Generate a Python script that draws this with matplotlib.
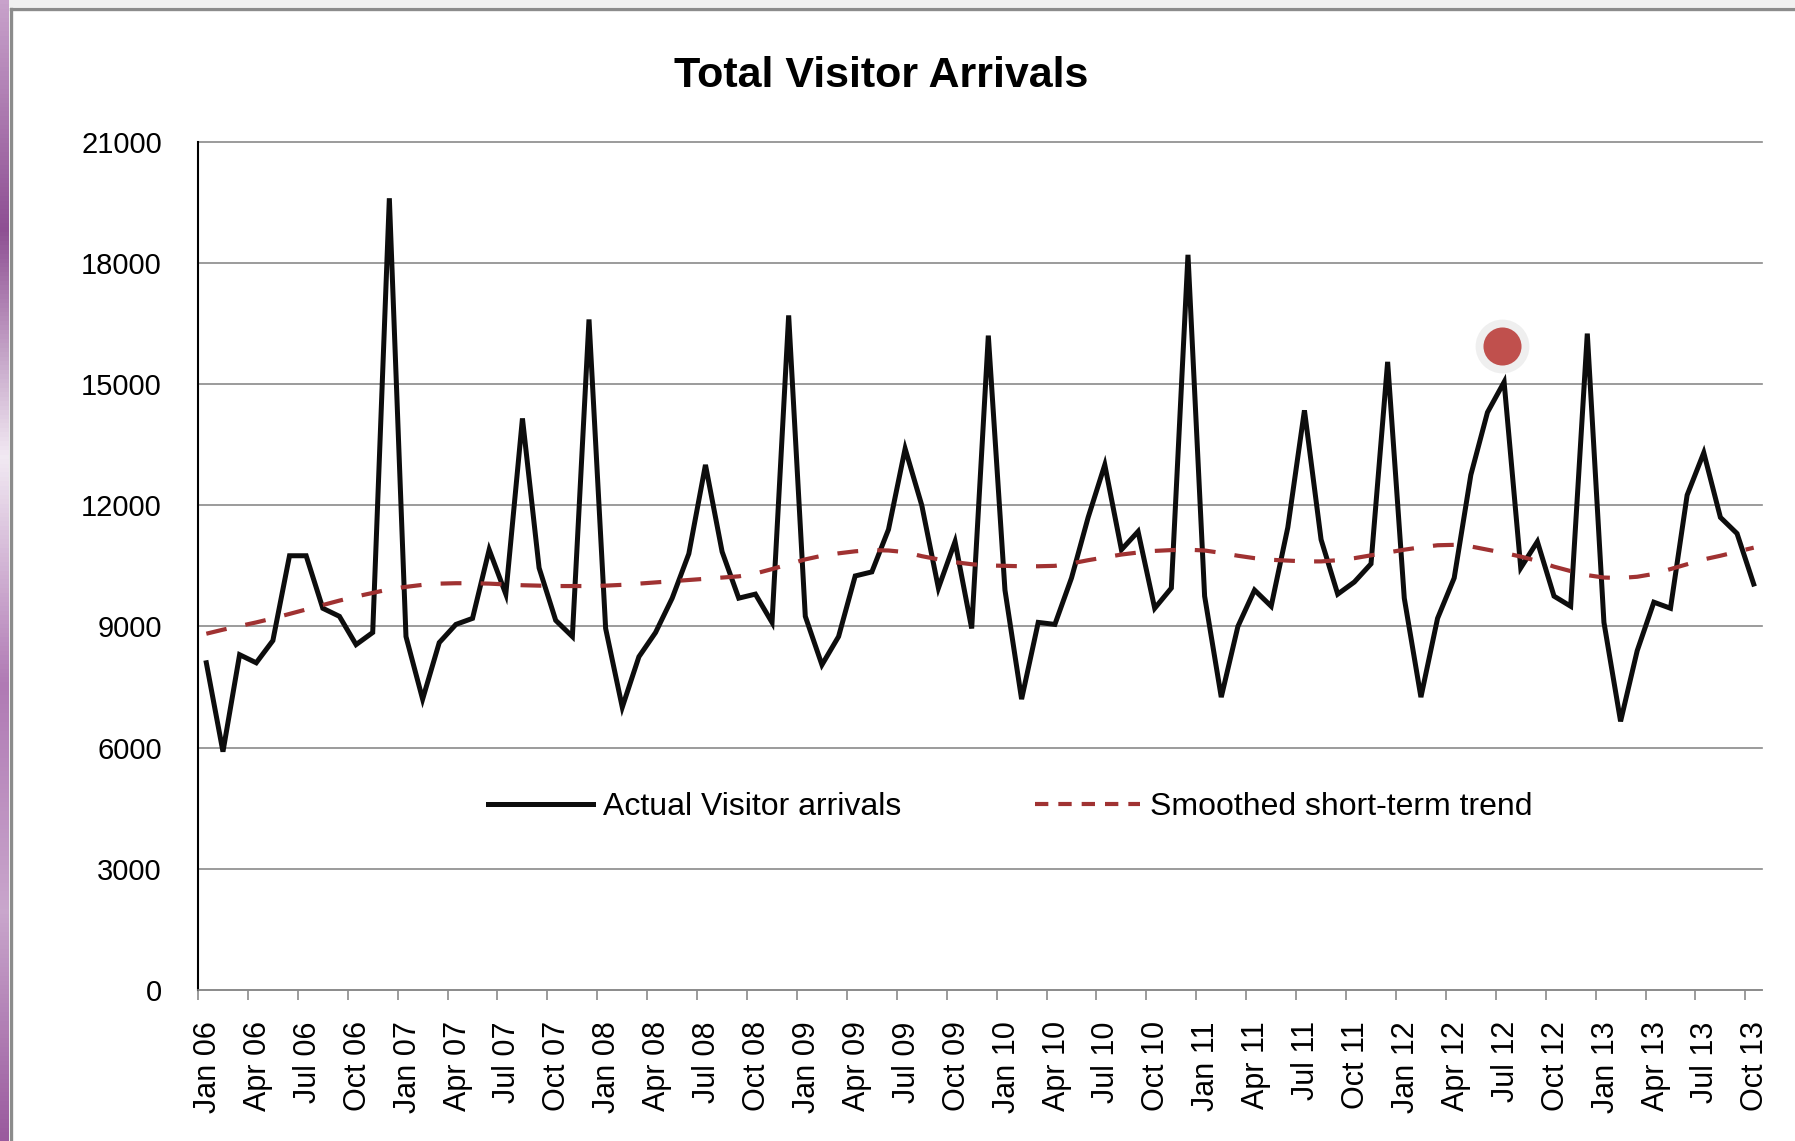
import numpy as np
import matplotlib
matplotlib.use("Agg")
import matplotlib.pyplot as plt
from matplotlib import transforms
from matplotlib.lines import Line2D
from matplotlib.colors import LinearSegmentedColormap

plt.rcParams['font.family'] = ['Liberation Sans', 'DejaVu Sans']

# ---------------- data ----------------
title = "Total Visitor Arrivals"
series_names = ["Actual Visitor arrivals", "Smoothed short-term trend"]

actual = [8100, 5900, 8300, 8100, 8650, 10750, 10750, 9450, 9250, 8550, 8850, 19600,
          8750, 7200, 8600, 9050, 9200, 10900, 9800, 14150, 10450, 9150, 8750, 16600,
          8950, 7000, 8250, 8850, 9700, 10800, 13000, 10850, 9700, 9800, 9100, 16700,
          9250, 8050, 8750, 10250, 10350, 11400, 13400, 12000, 9950, 11100, 8950, 16200,
          9900, 7200, 9100, 9050, 10200, 11700, 13000, 10900, 11350, 9450, 9950, 18200,
          9750, 7250, 9000, 9900, 9500, 11450, 14350, 11150, 9800, 10100, 10550, 15550,
          9700, 7250, 9200, 10200, 12750, 14300, 15050, 10450, 11100, 9750, 9500, 16250,
          9100, 6650, 8400, 9600, 9450, 12250, 13300, 11700, 11300, 10050]

trend = [8820, 8920, 9010, 9100, 9200, 9310, 9420, 9530, 9640, 9740, 9830, 9920,
         9980, 10030, 10060, 10070, 10070, 10060, 10040, 10020, 10010, 10000, 10000, 10000,
         10010, 10030, 10060, 10090, 10120, 10150, 10180, 10210, 10240, 10310, 10420, 10540,
         10660, 10750, 10810, 10860, 10890, 10880, 10840, 10740, 10660, 10590, 10540, 10510,
         10500, 10490, 10490, 10500, 10560, 10640, 10710, 10780, 10830, 10870, 10890, 10900,
         10880, 10820, 10750, 10690, 10650, 10630, 10610, 10610, 10640, 10690, 10760, 10830,
         10900, 10960, 11010, 11020, 10980, 10900, 10820, 10730, 10620, 10480, 10370, 10270,
         10210, 10200, 10230, 10300, 10420, 10540, 10660, 10750, 10850, 10950]

tick_labels = [f"{m} {y:02d}" for y in range(6, 14) for m in ["Jan", "Apr", "Jul", "Oct"]]
y_ticks = [0, 3000, 6000, 9000, 12000, 15000, 18000, 21000]

highlight_x = 78.35
highlight_y = 15950

# ---------------- figure ----------------
W, H = 1795, 1141
fig = plt.figure(figsize=(W / 100, H / 100), dpi=100)
fig.patch.set_facecolor("white")

L, R, T, B = 198, 1762, 141.7, 990
ax = fig.add_axes([L / W, 1 - B / H, (R - L) / W, (B - T) / H])

n = len(actual)
x = np.arange(n) + 0.5

ax.set_xlim(0, n)
ax.set_ylim(0, 21000)

grid_col = "#8a8a8a"
ax.set_yticks(y_ticks)
ax.set_yticklabels([str(v) for v in y_ticks])
ax.yaxis.grid(True, color=grid_col, linewidth=1.2)
for gl in ax.yaxis.get_gridlines():
    gl.set_clip_on(False)
ax.set_axisbelow(True)

ax.set_xticks(np.arange(0, n, 3))
ax.set_xticklabels(tick_labels, rotation=90, va="top", ha="center")

ax.tick_params(axis="y", length=0, pad=26, labelsize=21, labelcolor="black")
ax.tick_params(axis="x", length=7.5, width=1.2, color=grid_col, pad=15,
               labelsize=22, labelcolor="black")
offset = transforms.ScaledTranslation(10 / 100, 0, fig.dpi_scale_trans)
for lab in ax.get_xticklabels():
    lab.set_transform(lab.get_transform() + offset)

for s in ["top", "right"]:
    ax.spines[s].set_visible(False)
ax.spines["left"].set_color("black")
ax.spines["left"].set_linewidth(1.5)
ax.spines["bottom"].set_color(grid_col)
ax.spines["bottom"].set_linewidth(1.2)

l1, = ax.plot(x, actual, color="#0d0d0d", linewidth=3.6, solid_joinstyle="miter",
              label=series_names[0], zorder=3)
l2, = ax.plot(x, trend, color="#a03232", linewidth=3.0, dashes=(5, 4.6),
              label=series_names[1], zorder=4)

# highlight dot
ax.scatter([highlight_x], [highlight_y], s=1500, color="#efefef", zorder=5, linewidths=0)
ax.scatter([highlight_x], [highlight_y], s=750, color="#c0504d", zorder=6, linewidths=0)

h1 = Line2D([], [], color="#0d0d0d", linewidth=3.6)
h2 = Line2D([], [], color="#a03232", linewidth=3.0, dashes=(3.2, 2.4))
fig.legend([h1, h2], series_names, loc="center",
           bbox_to_anchor=(1010 / W, 1 - 807 / H), ncol=2, frameon=False,
           fontsize=23, handlelength=3.3, handletextpad=0.3, columnspacing=4.2)

fig.text(881 / W, 1 - 76 / H, title, ha="center", va="center",
         fontsize=31, fontweight="bold", color="black")

# ---------------- frame decoration ----------------
fig.add_artist(Line2D([11 / W, 1], [1 - 9 / H, 1 - 9 / H], color="#8c8c8c",
                      linewidth=2.4, transform=fig.transFigure))
fig.add_artist(Line2D([11 / W, 11 / W], [0, 1 - 9 / H], color="#8c8c8c",
                      linewidth=2.4, transform=fig.transFigure))
top_ax = fig.add_axes([0, 1 - 7 / H, 1, 7 / H])
top_ax.set_facecolor("#f1f1f1")
top_ax.set_xticks([]); top_ax.set_yticks([])
for s in top_ax.spines.values():
    s.set_visible(False)
strip = fig.add_axes([0, 0, 9 / W, 1])
grad = np.linspace(0, 1, 256).reshape(-1, 1)
cmap = LinearSegmentedColormap.from_list(
    "p", ["#9a5a9e", "#c9a6cc", "#b07ab4", "#f2eaf3", "#8e4f93", "#c8a2cb"])
strip.imshow(grad, aspect="auto", cmap=cmap, origin="lower")
strip.set_xticks([]); strip.set_yticks([])
for s in strip.spines.values():
    s.set_visible(False)

fig.savefig("out.png", dpi=100, facecolor="white")
